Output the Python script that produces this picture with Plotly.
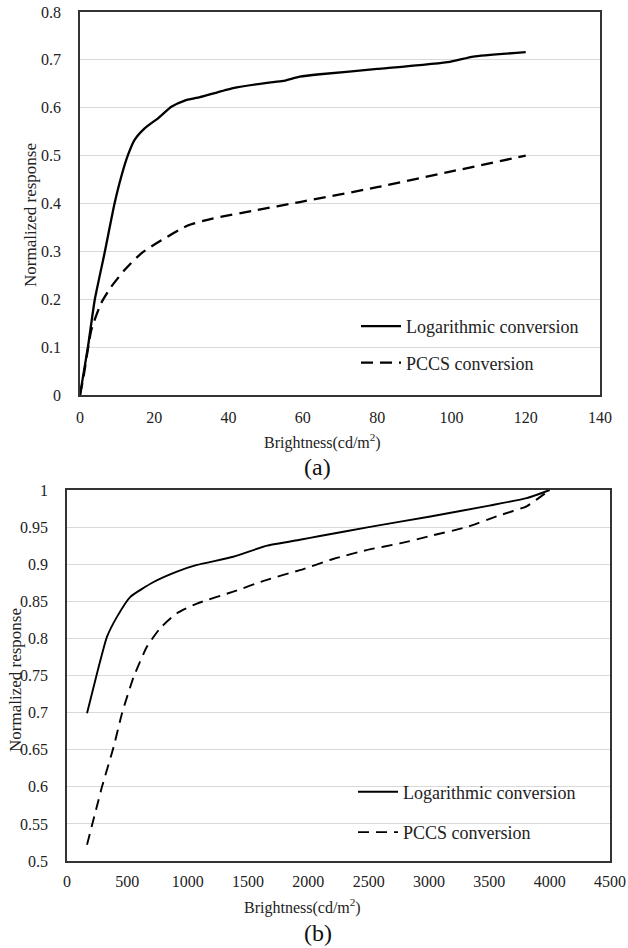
import plotly.graph_objects as go

# ---------- Data: chart (a) ----------
a_log_x = [0, 2.15, 3.95, 6.6, 9.3, 11.1, 12.9, 14.7, 17.4, 21.0, 24.6, 28.2, 32.3, 41.2, 50.3, 54.7, 59.2, 64.6, 80, 99.6, 105.9, 120]
a_log_y = [0, 0.101, 0.198, 0.296, 0.400, 0.456, 0.501, 0.533, 0.557, 0.578, 0.602, 0.615, 0.622, 0.641, 0.652, 0.656, 0.665, 0.670, 0.681, 0.696, 0.707, 0.716]
a_pccs_x = [0, 0.8, 3.05, 5.7, 8.4, 12.0, 16.5, 21.9, 29.0, 35.9, 46.7, 59.2, 80, 100, 120]
a_pccs_y = [0, 0.031, 0.136, 0.192, 0.226, 0.261, 0.296, 0.323, 0.354, 0.369, 0.385, 0.403, 0.434, 0.467, 0.500]

# ---------- Data: chart (b) ----------
b_log_x = [166, 249, 331, 414, 525, 718, 911, 1077, 1378, 1657, 1930, 2096, 2500, 3000, 3500, 3809, 4000]
b_log_y = [0.699, 0.753, 0.802, 0.829, 0.856, 0.876, 0.890, 0.899, 0.910, 0.925, 0.933, 0.938, 0.950, 0.964, 0.979, 0.989, 1.000]
b_pccs_x = [166, 290, 387, 456, 552, 663, 773, 911, 1077, 1378, 1657, 1930, 2206, 2483, 2759, 3035, 3311, 3588, 3809, 3891, 4000]
b_pccs_y = [0.522, 0.600, 0.654, 0.699, 0.748, 0.789, 0.814, 0.834, 0.847, 0.863, 0.879, 0.892, 0.907, 0.919, 0.928, 0.939, 0.950, 0.966, 0.978, 0.987, 1.000]

# ---------- Axis ticks and labels ----------
a_xticks = [0, 20, 40, 60, 80, 100, 120, 140]
a_yticks = [0, 0.1, 0.2, 0.3, 0.4, 0.5, 0.6, 0.7, 0.8]
a_yticklabels = ["0", "0.1", "0.2", "0.3", "0.4", "0.5", "0.6", "0.7", "0.8"]
b_xticks = [0, 500, 1000, 1500, 2000, 2500, 3000, 3500, 4000, 4500]
b_yticks = [0.5, 0.55, 0.6, 0.65, 0.7, 0.75, 0.8, 0.85, 0.9, 0.95, 1.0]
b_yticklabels = ["0.5", "0.55", "0.6", "0.65", "0.7", "0.75", "0.8", "0.85", "0.9", "0.95", "1"]

series_names = ["Logarithmic conversion", "PCCS conversion"]
x_title = "Brightness(cd/m<sup>2</sup>)"
y_title = "Normalized response"

W, H = 628, 948
FONT = '"Liberation Serif", "Times New Roman", Times, serif'
TXT = "#222222"

fig = go.Figure()

fig.add_trace(go.Scatter(x=a_log_x, y=a_log_y, mode="lines", name=series_names[0],
                         line=dict(color="black", width=2.3, shape="spline", smoothing=0.5),
                         xaxis="x", yaxis="y", legend="legend", legendgroup="a1"))
fig.add_trace(go.Scatter(x=a_pccs_x, y=a_pccs_y, mode="lines", name=series_names[1],
                         line=dict(color="black", width=2.3, dash="12px,7px", shape="spline", smoothing=0.5),
                         xaxis="x", yaxis="y", legend="legend", legendgroup="a2"))
fig.add_trace(go.Scatter(x=b_log_x, y=b_log_y, mode="lines", name=series_names[0],
                         line=dict(color="black", width=1.9, shape="spline", smoothing=0.5),
                         xaxis="x2", yaxis="y2", legend="legend2", legendgroup="b1"))
fig.add_trace(go.Scatter(x=b_pccs_x, y=b_pccs_y, mode="lines", name=series_names[1],
                         line=dict(color="black", width=1.9, dash="11px,7px", shape="spline", smoothing=0.5),
                         xaxis="x2", yaxis="y2", legend="legend2", legendgroup="b2"))

def px_x(p):
    return p / W

def px_y(p):
    return 1 - p / H

axis_common = dict(showline=True, linecolor="#333333", linewidth=1.6, mirror=True,
                   ticks="", zeroline=False, automargin=False, ticklabeloverflow="allow",
                   tickfont=dict(family=FONT, size=16, color=TXT))

fig.update_layout(
    width=W, height=H,
    margin=dict(l=0, r=0, t=0, b=0, autoexpand=False),
    paper_bgcolor="white", plot_bgcolor="white",
    font=dict(family=FONT, color=TXT),
    xaxis=dict(domain=[px_x(80), px_x(600)], range=[0, 140], tickvals=a_xticks,
               showgrid=False, anchor="y", ticklabelstandoff=7, **axis_common),
    yaxis=dict(domain=[px_y(395), px_y(12)], range=[0, 0.8], tickvals=a_yticks,
               ticktext=a_yticklabels, showgrid=True, gridcolor="#d9d9d9", gridwidth=1,
               anchor="x", ticklabelstandoff=14, **axis_common),
    xaxis2=dict(domain=[px_x(67), px_x(610)], range=[0, 4500], tickvals=b_xticks,
                showgrid=False, anchor="y2", ticklabelstandoff=5, **axis_common),
    yaxis2=dict(domain=[px_y(861), px_y(490)], range=[0.5, 1.0], tickvals=b_yticks,
                ticktext=b_yticklabels, showgrid=True, gridcolor="#d9d9d9", gridwidth=1,
                anchor="x2", ticklabelstandoff=14, **axis_common),
    legend=dict(x=px_x(356), y=px_y(344.5), xanchor="left", yanchor="middle",
                bgcolor="rgba(255,255,255,0)", font=dict(family=FONT, size=18, color=TXT),
                tracegroupgap=10, itemwidth=40),
    legend2=dict(x=px_x(353), y=px_y(812), xanchor="left", yanchor="middle",
                 bgcolor="rgba(255,255,255,0)", font=dict(family=FONT, size=18, color=TXT),
                 tracegroupgap=14, itemwidth=40),
    showlegend=True,
)

def note(text, x, y, size, angle=0, color=TXT):
    return dict(text=text, x=px_x(x), y=px_y(y), xref="paper", yref="paper",
                xanchor="center", yanchor="middle", textangle=angle,
                showarrow=False, font=dict(family=FONT, size=size, color=color))

annos = [
    note(x_title, 322, 442, 16),
    note(y_title, 31, 215, 17, angle=-90),
    note("(a)", 317, 467, 24, color="#111111"),
    note(x_title, 302, 906, 16),
    note(y_title, 15, 680, 17, angle=-90),
    note("(b)", 318, 933, 24, color="#111111"),
]
fig.update_layout(annotations=annos)

# remove the page's default 8px body margin so the figure sits at the window origin
fig.write_html("out.html", config={"displayModeBar": False},
               post_script="document.body.style.margin='0';")
